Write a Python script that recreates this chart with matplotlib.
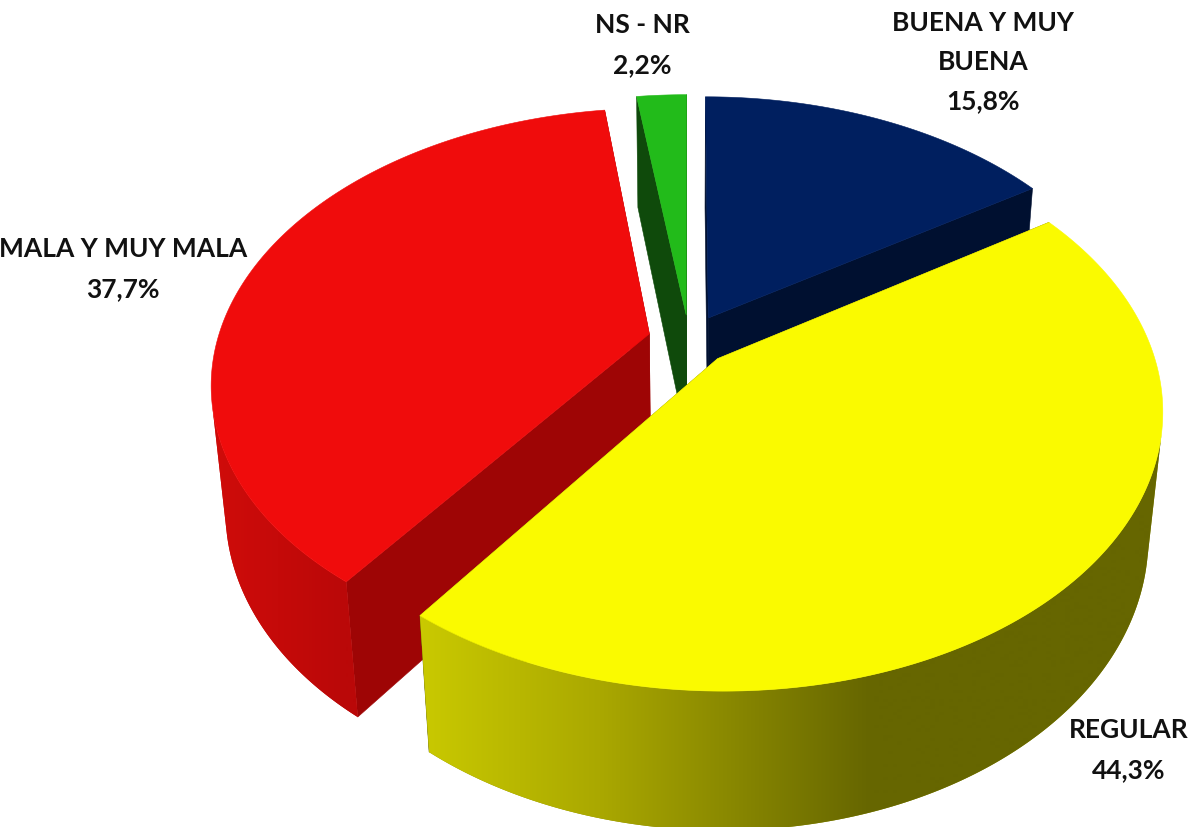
"""Exploded perspective pie: opinion shares, drawn with polygons in pixel coordinates."""

import matplotlib

matplotlib.use("Agg")
import matplotlib.pyplot as plt
import numpy as np
from matplotlib.patches import Polygon

CATEGORIES = ["BUENA Y MUY\nBUENA", "REGULAR", "MALA Y MUY MALA", "NS - NR"]
VALUES = [15.8, 44.3, 37.7, 2.2]

TOP_COLORS = ["#001F5F", "#FAFA00", "#F00C0C", "#22BB1A"]
SIDE_COLORS = ["#001030", "#666600", "#9E0505", "#0F4A0B"]
LABEL_POS = [(983, 62), (1129, 750), (123, 269), (642, 45)]

# outer wall shading, by screen x
RIM_X = [[0, 1191], [418, 600, 870, 1191], [210, 346], [0, 1191]]
RIM_RGB = [
    [(0, 16, 48), (0, 16, 48)],
    [(202, 202, 0), (170, 168, 0), (102, 102, 0), (102, 102, 0)],
    [(208, 12, 10), (186, 8, 8)],
    [(15, 74, 11), (15, 74, 11)],
]

# camera
CX, CY = 689, 341
A, B = 432, 267
K, M = 0.175, 0.03
DEPTH = 128
EXPLODE = 0.095


def project(u, v, low):
    """Plane point (u right, v back) to pixels; low=1 is the bottom face."""
    w = 1 + K * v + M * low
    return CX + A * u / w, CY - (B * v - DEPTH * low) / w


def area(pts):
    x, y = np.asarray(pts).T
    return 0.5 * np.sum(x * np.roll(y, -1) - np.roll(x, -1) * y)


def draw_slice(ax, start, end, top, side, rim_x, rim_rgb, z):
    mid = (start + end) / 2
    ou, ov = EXPLODE * np.sin(mid), EXPLODE * np.cos(mid)
    t = np.linspace(start, end, 300)
    u, v = ou + np.sin(t), ov + np.cos(t)

    # radial walls first, the back ones end up hidden under the rest
    for a in (start, end):
        ru, rv = ou + np.sin(a), ov + np.cos(a)
        quad = [project(ou, ov, 0), project(ru, rv, 0), project(ru, rv, 1), project(ou, ov, 1)]
        ax.fill(*zip(*quad), color=side, lw=0.4, zorder=z)

    # outer wall: keep the arc part that faces the camera, shade it with a clipped image
    xt, yt = project(u, v, 0)
    xb, yb = project(u, v, 1)
    facing = [
        area([(xt[i], yt[i]), (xt[i + 1], yt[i + 1]), (xb[i + 1], yb[i + 1]), (xb[i], yb[i])]) < 0
        for i in range(len(t) - 1)
    ]
    idx = np.flatnonzero(facing)
    if idx.size:
        s = np.arange(idx[0], idx[-1] + 2)
        outline = np.c_[np.r_[xt[s], xb[s][::-1]], np.r_[yt[s], yb[s][::-1]]]
        # same-colour fill under the image keeps the edge smooth
        base = np.array(rim_rgb).mean(axis=0) / 255
        ax.fill(outline[:, 0], outline[:, 1], color=base, lw=0, zorder=z + 0.1)
        col_x = np.arange(0, 1192)
        grad = np.stack(
            [np.interp(col_x, rim_x, [c[j] for c in rim_rgb]) / 255 for j in range(3)], axis=-1
        )[None, :, :]
        im = ax.imshow(
            grad, extent=[0, 1191, 828, 0], aspect="auto", interpolation="bilinear", zorder=z + 0.2
        )
        im.set_clip_path(Polygon(outline, closed=True, transform=ax.transData))

    px, py = project(np.r_[ou, u], np.r_[ov, v], 0)
    ax.fill(px, py, color=top, lw=0.4, zorder=z + 0.3)


fig = plt.figure(figsize=(11.91, 8.28), dpi=100)
ax = fig.add_axes([0, 0, 1, 1])
ax.set_xlim(0, 1191)
ax.set_ylim(828, 0)
ax.axis("off")

edges = np.radians(np.r_[0, np.cumsum(VALUES)] * 360 / sum(VALUES))
for z, i in enumerate((0, 3, 2, 1), start=1):
    draw_slice(ax, edges[i], edges[i + 1], TOP_COLORS[i], SIDE_COLORS[i], RIM_X[i], RIM_RGB[i], z)

for name, val, (x, y) in zip(CATEGORIES, VALUES, LABEL_POS):
    ax.text(
        x, y, f"{name}\n{val:.1f}%".replace(".", ","),
        ha="center", va="center", fontsize=19, fontweight="bold", linespacing=1.77,
        family="Lato", color="#111111", zorder=20,
    )

ax.set_xlim(0, 1191)
ax.set_ylim(828, 0)
fig.savefig("out.png", dpi=100)
